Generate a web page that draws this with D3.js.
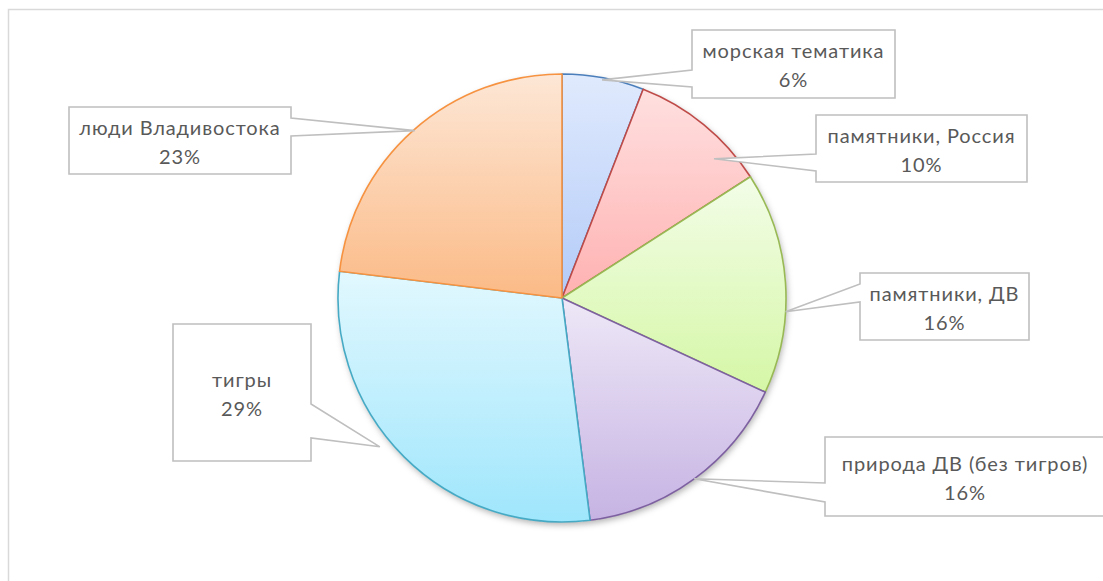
<!DOCTYPE html>
<html>
<head>
<meta charset="utf-8">
<script src="https://cdn.jsdelivr.net/npm/d3@7"></script>
<style>
  html, body { margin: 0; padding: 0; background: #fff; }
  svg { display: block; }
</style>
</head>
<body>
<div id="chart"></div>
<script>
// ---- data ----
const categories = ["морская тематика", "памятники, Россия", "памятники, ДВ", "природа ДВ (без тигров)", "тигры", "люди Владивостока"];
const values = [5.9, 10.0, 16.0, 16.1, 28.9, 23.1];
const strokeColors = ["#4a7ebb", "#be4b48", "#98b954", "#7d60a0", "#46aac5", "#f69240"];
const gradTop = ["#e0eafd", "#ffe0e0", "#f3fde8", "#eee8f7", "#e2f8fe", "#fde7d6"];
const gradBottom = ["#b3cbf8", "#ffb1b1", "#d5f7a6", "#c6b3e3", "#9fe6fc", "#fbba86"];

// ---- label layout (callout boxes; tip given by position within slice & radius factor) ----
const boxes = [
  {x0: 692, y0: 30,  x1: 895,  y1: 98,  side: "left",  n0: 70,  n1: 87,  t: 0.49, r: 0.99},
  {x0: 816, y0: 115, x1: 1027, y1: 182, side: "left",  n0: 154, n1: 171, t: 0.73, r: 0.92},
  {x0: 860, y0: 273, x1: 1029, y1: 340, side: "left",  n0: 284, n1: 302, t: 0.63, r: 1.0},
  {x0: 825, y0: 437, x1: 1105, y1: 516, side: "left",  n0: 483, n1: 502, t: 0.50, r: 1.0},
  {x0: 173, y0: 324, x1: 311,  y1: 461, side: "right", n0: 404, n1: 438, t: 0.557, r: 1.05},
  {x0: 69,  y0: 107, x1: 291,  y1: 174, side: "right", n0: 118, n1: 136, t: 0.503, r: 0.995}
];

const W = 1103, H = 581;
const cx = 562, cy = 298, R = 224;

const svg = d3.select("#chart").append("svg").attr("width", W).attr("height", H);
const defs = svg.append("defs");

// gradients per slice
categories.forEach((c, i) => {
  const g = defs.append("linearGradient").attr("id", "g" + i)
    .attr("x1", 0).attr("y1", 0).attr("x2", 0).attr("y2", 1);
  g.append("stop").attr("offset", "0%").attr("stop-color", gradTop[i]);
  g.append("stop").attr("offset", "100%").attr("stop-color", gradBottom[i]);
});
const f = defs.append("filter").attr("id", "shadow").attr("x", "-10%").attr("y", "-10%").attr("width", "130%").attr("height", "130%");
f.append("feDropShadow").attr("dx", 1.5).attr("dy", 3).attr("stdDeviation", 3)
  .attr("flood-color", "#000").attr("flood-opacity", 0.3);

// chart area border
svg.append("rect").attr("x", 8.5).attr("y", 9.5).attr("width", 1300).attr("height", 800)
  .attr("fill", "#fff").attr("stroke", "#d9d9d9").attr("stroke-width", 1.5);

const data = categories.map((c, i) => ({name: c, value: values[i], i}));
const total = d3.sum(values);
const pie = d3.pie().value(d => d.value).sort(null);
const arcs = pie(data);
const arc = d3.arc().innerRadius(0).outerRadius(R);

const g = svg.append("g").attr("transform", `translate(${cx},${cy})`);
// shadow base
g.append("circle").attr("r", R).attr("fill", "#fff").attr("filter", "url(#shadow)");
g.selectAll("path.slice").data(arcs).enter().append("path")
  .attr("class", "slice")
  .attr("d", arc)
  .attr("fill", d => `url(#g${d.data.i})`)
  .attr("stroke", d => strokeColors[d.data.i])
  .attr("stroke-width", 1.6)
  .attr("stroke-linejoin", "round");

// callouts
const fmt = v => Math.round(v / total * 100) + "%";
const labels = svg.append("g");
arcs.forEach((a, k) => {
  const b = boxes[k];
  const ang = a.startAngle + (a.endAngle - a.startAngle) * b.t;
  const tx = cx + Math.sin(ang) * R * b.r;
  const ty = cy - Math.cos(ang) * R * b.r;
  let p;
  if (b.side === "left") {
    p = `M${b.x0},${b.y0}L${b.x1},${b.y0}L${b.x1},${b.y1}L${b.x0},${b.y1}L${b.x0},${b.n1}L${tx},${ty}L${b.x0},${b.n0}Z`;
  } else {
    p = `M${b.x0},${b.y0}L${b.x1},${b.y0}L${b.x1},${b.n0}L${tx},${ty}L${b.x1},${b.n1}L${b.x1},${b.y1}L${b.x0},${b.y1}Z`;
  }
  labels.append("path").attr("d", p).attr("fill", "#fff").attr("stroke", "#bfbfbf").attr("stroke-width", 1.6);
  const mx = (b.x0 + b.x1) / 2, my = (b.y0 + b.y1) / 2;
  const t = labels.append("text").attr("text-anchor", "middle")
    .attr("font-family", "Lato, 'Open Sans', sans-serif").attr("font-size", 20)
    .attr("letter-spacing", "0.9px").attr("fill", "#595959");
  t.append("tspan").attr("x", mx).attr("y", my - 13).attr("dy", "0.35em").text(a.data.name);
  t.append("tspan").attr("x", mx).attr("y", my + 16).attr("dy", "0.35em").text(fmt(a.data.value));
});
</script>
</body>
</html>
